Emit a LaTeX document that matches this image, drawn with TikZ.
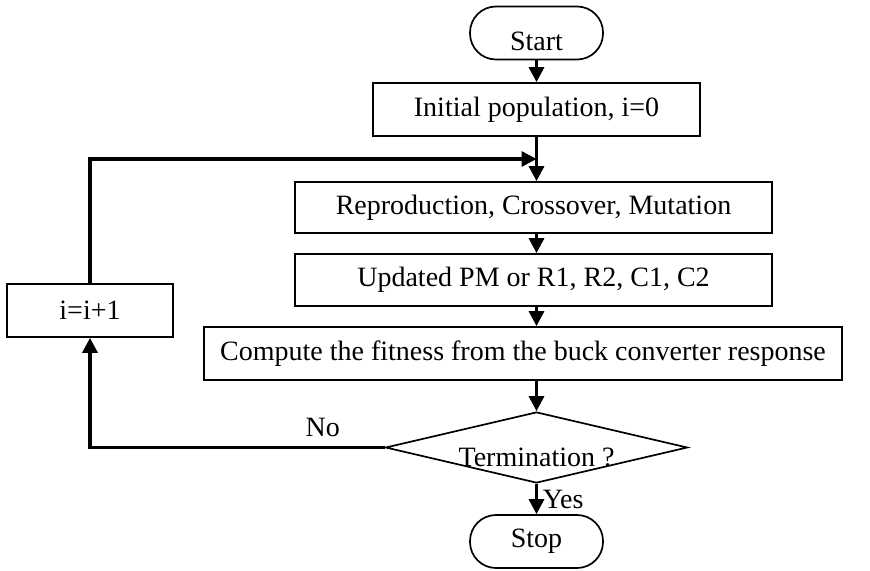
\documentclass[tikz,border=0pt]{standalone}
\usepackage{fontspec}
\setmainfont{Liberation Serif}
\usepackage{tikz}
\usetikzlibrary{positioning,calc,shapes.geometric,arrows.meta}

\begin{document}
\begin{tikzpicture}[x=0.5pt,y=-0.5pt, font=\fontsize{14}{16}\selectfont, line join=miter]
	\useasboundingbox (0,0) rectangle (870,571);
	
	% ===== style =====
	\tikzset{
		box/.style={draw, line width=0.85pt, inner sep=0pt, minimum height=26.5pt},
		term/.style={box, rounded corners=13pt, minimum width=66.5pt},
		decide/.style={draw, line width=0.85pt, shape=diamond, aspect=4.25, inner sep=0pt, minimum width=151pt, minimum height=35.5pt},
		arr/.style={line width=1.6pt, -{Triangle[length=7.5pt,width=7.5pt]}}
	}
	
	% ===== các khối =====
	\node[term] (start) at (536.5,33) {};
	\node at (536.5,41) {Start};
	\node[box, minimum width=163.5pt] (init) at (536.5,109.5) {Initial population, i=0};
	\node[box, minimum width=238.5pt, minimum height=25.5pt] (repro) at (533.5,207.5) {Reproduction, Crossover, Mutation};
	\node[box, minimum width=238.5pt, minimum height=26pt] (upd) at (533.5,280) {Updated PM or R1, R2, C1, C2};
	\node[box, minimum width=319pt] (fit) at (523,353.5) {Compute the fitness from the buck converter response};
	\node[decide] (stopq) at (536.5,447.5) {};
	\node at (536.5,457) {Termination ?};
	\node[term] (stop) at (536.5,541.5) {Stop};
	\node[box, minimum width=83pt] (inc) at (90,310.5) {i=i+1};
	
	% ===== điểm nối =====
	\coordinate (join) at ($(init.south)!0.5!(init.south |- repro.north)$);
	
	% ===== mũi tên =====
	\draw[arr] (start.south) -- (init.north);
	\draw[arr] (init.south) -- (init.south |- repro.north);
	\draw[arr] (repro.south -| init.south) -- (upd.north -| init.south);
	\draw[arr] (upd.south -| init.south) -- (fit.north -| init.south);
	\draw[arr] (fit.south -| init.south) -- (stopq.north);
	\draw[arr] (stopq.south) -- node[right=-1pt] {Yes} (stop.north);
	\draw[arr] (stopq.west) -| node[pos=0.105, above=1pt] {No} (inc.south);
	\draw[arr] (inc.north) |- (join);
\end{tikzpicture}
\end{document}
